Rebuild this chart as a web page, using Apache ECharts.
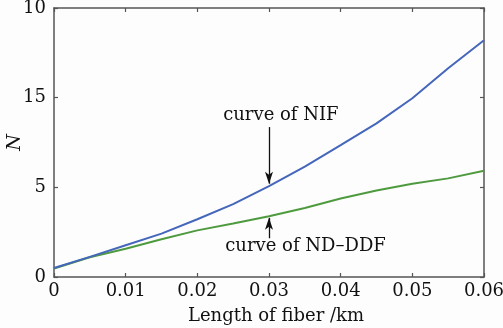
<!DOCTYPE html>
<html><head><meta charset="utf-8">
<script src="https://cdn.jsdelivr.net/npm/echarts@6/dist/echarts.min.js"></script>
<style>html,body{margin:0;padding:0;background:#fff}#c{width:503px;height:328px}</style>
</head><body><div id="c"></div>
<script>
var xValues = [0, 0.005, 0.01, 0.015, 0.02, 0.025, 0.03, 0.035, 0.04, 0.045, 0.05, 0.055, 0.06];
var nifValues = [0.5, 1.12, 1.77, 2.42, 3.22, 4.06, 5.07, 6.15, 7.35, 8.57, 9.97, 11.64, 13.2];
var nddfValues = [0.47, 1.1, 1.58, 2.1, 2.6, 2.98, 3.39, 3.85, 4.38, 4.82, 5.2, 5.5, 5.92];
var xTickLabels = ['0', '0.01', '0.02', '0.03', '0.04', '0.05', '0.06'];
var yTickLabels = ['0', '5', '15', '10'];
var nifLabel = 'curve of NIF';
var nddfLabel = 'curve of ND\u2013DDF';
var xName = 'Length of fiber /km';
var yName = 'N';

var FONT = 'DejaVu Serif';
var AX = '#555';
function pairs(v){ return xValues.map(function(x,i){ return [x, v[i]]; }); }

var chart = echarts.init(document.getElementById('c'), null, {renderer:'canvas'});
var axisCommon = {
  axisLine:{show:true, onZero:false, lineStyle:{color:AX, width:1.5}},
  axisTick:{show:true, inside:true, length:4, lineStyle:{color:AX, width:1.2}},
  splitLine:{show:false}
};
chart.setOption({
  backgroundColor:'#fdfdfd',
  animation:false,
  grid:{left:54, right:19, top:8, bottom:51, containLabel:false, outerBoundsMode:'none'},
  xAxis:[
    Object.assign({type:'value', min:0, max:0.06, interval:0.01, position:'bottom',
      name:xName, nameLocation:'middle', nameGap:30, nameMoveOverlap:false,
      nameTextStyle:{fontFamily:FONT, fontSize:18, color:'#111', padding:[0,0,0,14]},
      axisLabel:{fontFamily:FONT, fontSize:18, color:'#111', margin:5,
        formatter:function(v){ return xTickLabels[Math.round(v/0.01)]; }}}, axisCommon),
    Object.assign({type:'value', min:0, max:0.06, interval:0.01, position:'top',
      axisLabel:{show:false}}, axisCommon)
  ],
  yAxis:[
    Object.assign({type:'value', min:0, max:15, interval:5, position:'left',
      name:yName, nameLocation:'middle', nameGap:29, nameMoveOverlap:false,
      nameTextStyle:{fontFamily:FONT, fontSize:19, fontStyle:'italic', color:'#111'},
      axisLabel:{fontFamily:FONT, fontSize:18, color:'#111', margin:8,
        formatter:function(v){ return yTickLabels[Math.round(v/5)]; }}}, axisCommon),
    Object.assign({type:'value', min:0, max:15, interval:5, position:'right',
      axisLabel:{show:false}}, axisCommon)
  ],
  series:[
    {type:'line', data:pairs(nifValues), symbol:'none', smooth:false,
     lineStyle:{color:'#4466bb', width:2}, z:3,
     markLine:{silent:true, symbol:['none','arrow'], symbolSize:[6,12],
       lineStyle:{color:'#111', width:1.3, type:'solid'}, label:{show:false},
       data:[[{coord:[0.03, 8.36]}, {coord:[0.03, 5.2]}]]},
     markPoint:{symbol:'circle', symbolSize:0,
       label:{show:true, fontFamily:FONT, fontSize:18, color:'#111', position:'inside', formatter:nifLabel},
       data:[{coord:[0.03166, 9.03]}]}
    },
    {type:'line', data:pairs(nddfValues), symbol:'none', smooth:false,
     lineStyle:{color:'#4e9a3e', width:2}, z:2,
     markLine:{silent:true, symbol:['none','arrow'], symbolSize:[6,12],
       lineStyle:{color:'#111', width:1.3, type:'solid'}, label:{show:false},
       data:[[{coord:[0.03, 2.16]}, {coord:[0.03, 3.3]}]]},
     markPoint:{symbol:'circle', symbolSize:0,
       label:{show:true, fontFamily:FONT, fontSize:18, color:'#111', position:'inside', formatter:nddfLabel},
       data:[{coord:[0.0351, 1.72]}]}
    }
  ]
});
</script></body></html>
